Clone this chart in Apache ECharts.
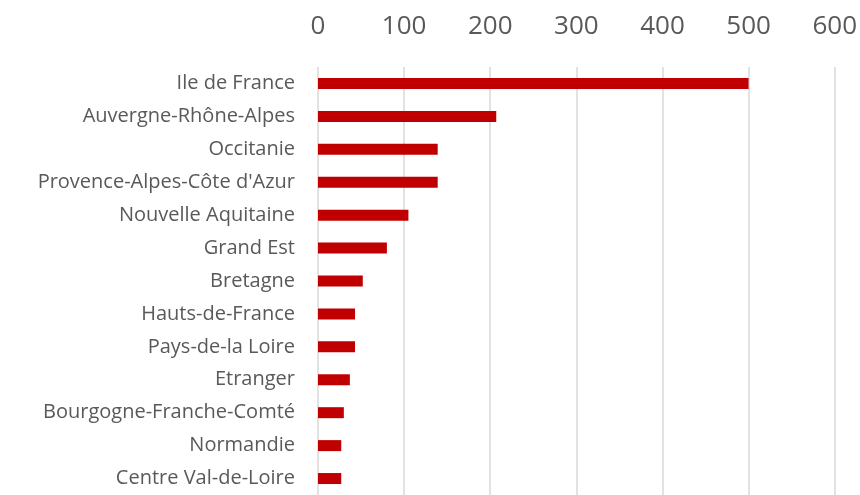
<!DOCTYPE html>
<html>
<head>
<meta charset="utf-8">
<script src="https://cdn.jsdelivr.net/npm/echarts@6/dist/echarts.min.js"></script>
<style>
  html, body { margin: 0; padding: 0; background: #fff; }
  #chart { width: 860px; height: 495px; }
</style>
</head>
<body>
<div id="chart"></div>
<script>
  // régions, du haut vers le bas
  var regions = [
    'Ile de France', 'Auvergne-Rhône-Alpes', 'Occitanie', "Provence-Alpes-Côte d'Azur",
    'Nouvelle Aquitaine', 'Grand Est', 'Bretagne', 'Hauts-de-France',
    'Pays-de-la Loire', 'Etranger', 'Bourgogne-Franche-Comté', 'Normandie',
    'Centre Val-de-Loire'
  ];
  var counts = [500, 207, 139, 139, 105, 80, 52, 43, 43, 37, 30, 27, 27];
  var xTicks = [0, 100, 200, 300, 400, 500, 600];

  var chart = echarts.init(document.getElementById('chart'));

  var option = {
    animation: false,
    grid: {
      left: 318,
      right: 24,
      top: 67,
      height: 434
    },
    xAxis: {
      type: 'value',
      position: 'top',
      min: xTicks[0],
      max: xTicks[xTicks.length - 1],
      interval: 100,
      axisLine: { show: false },
      axisTick: { show: false },
      axisLabel: {
        margin: 27,
        color: '#595959',
        fontSize: 26,
        fontFamily: 'Open Sans'
      },
      splitLine: { lineStyle: { color: '#d9d9d9', width: 1.5 } }
    },
    yAxis: {
      type: 'category',
      inverse: true,
      data: regions,
      axisLine: { show: false },
      axisTick: { show: false },
      axisLabel: {
        margin: 23,
        color: '#595959',
        fontSize: 20,
        fontFamily: 'Open Sans'
      }
    },
    series: [{
      type: 'bar',
      data: counts,
      barWidth: 11,
      itemStyle: { color: '#c00000' }
    }]
  };

  chart.setOption(option);
</script>
</body>
</html>
